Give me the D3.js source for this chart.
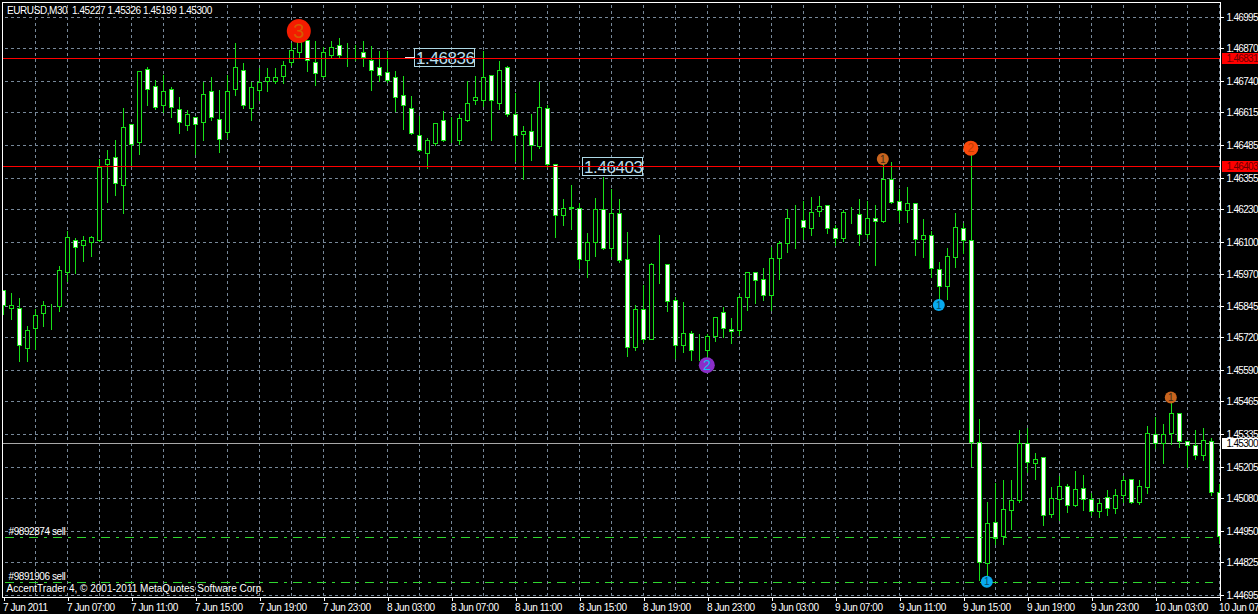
<!DOCTYPE html>
<html lang="en">
<head>
  <meta charset="UTF-8">
  <title>EURUSD,M30</title>
  <style>
    html, body { margin: 0; padding: 0; background: #000; overflow: hidden; }
    svg { display: block; font-family: "Liberation Sans", Arial, sans-serif; }
    .lbl { font-size: 10px; letter-spacing: -0.42px; fill: #fff; white-space: pre; }
    .lbl.price { letter-spacing: -0.7px; }
    .lbl.wide { letter-spacing: 0; }
  </style>
  <script src="https://d3js.org/d3.v7.min.js"></script>
</head>
<body>
  <div id="chart"></div>
  <script>
    // candles, 30 min bars
    const opens = [
      1.45910,1.45835,1.45837,1.45676,1.45755,1.45815,1.45837,1.45846,1.45978,1.46108,
      1.46086,1.46098,1.46106,1.46408,1.46438,1.46328,1.46569,1.46496,1.46788,1.46721,
      1.46646,1.46709,1.46629,1.46567,1.46597,1.46577,1.46701,1.46589,1.46536,1.46709,
      1.46784,1.46631,1.46703,1.46742,1.46742,1.46762,1.46814,1.46854,1.46902,1.46816,
      1.46762,1.46842,1.46884,1.46836,1.46844,1.46856,1.46824,1.46796,1.46776,1.46756,
      1.46685,1.46633,1.46524,1.46452,1.46492,1.46585,1.46514,1.46506,1.46585,1.46663,
      1.46663,1.46764,1.46653,1.46796,1.46609,1.46530,1.46540,1.46480,1.46633,1.46408,
      1.46205,1.46239,1.46235,1.46026,1.46100,1.46231,1.46074,1.46215,1.46032,1.45680,
      1.45833,1.45715,1.46016,1.46012,1.45869,1.45688,1.45737,1.45670,1.45668,1.45723,
      1.45821,1.45753,1.45747,1.45879,1.45980,1.45952,1.45887,1.46034,1.46096,1.46191,
      1.46187,1.46153,1.46221,1.46247,1.46155,1.46114,1.46212,1.46211,1.46133,1.46195,
      1.46181,1.46352,1.46263,1.46227,1.46255,1.46110,1.46128,1.45992,1.45926,1.46038,
      1.46155,1.46108,1.45303,1.44822,1.44985,1.44927,1.45033,1.45073,1.45299,1.45218,
      1.45244,1.45015,1.45076,1.45128,1.45053,1.45120,1.45076,1.45029,1.45084,1.45041,
      1.45092,1.45156,1.45065,1.45124,1.45335,1.45299,1.45339,1.45419,1.45307,1.45291,
      1.45252,1.45307,1.45104
    ];
    const highs = [
      1.45910,1.45901,1.45882,1.45770,1.45837,1.45870,1.45858,1.46009,1.46147,1.46121,
      1.46128,1.46128,1.46434,1.46471,1.46511,1.46638,1.46572,1.46783,1.46801,1.46750,
      1.46768,1.46721,1.46681,1.46630,1.46600,1.46741,1.46761,1.46710,1.46769,1.46897,
      1.46817,1.46741,1.46796,1.46797,1.46797,1.46825,1.46897,1.46913,1.46905,1.46905,
      1.46878,1.46905,1.46916,1.46896,1.46889,1.46905,1.46884,1.46864,1.46864,1.46784,
      1.46764,1.46685,1.46605,1.46518,1.46576,1.46625,1.46601,1.46613,1.46745,1.46764,
      1.46864,1.46767,1.46824,1.46804,1.46697,1.46565,1.46613,1.46739,1.46649,1.46411,
      1.46275,1.46331,1.46259,1.46140,1.46279,1.46363,1.46315,1.46275,1.46144,1.45853,
      1.45933,1.46020,1.46131,1.46016,1.45883,1.45866,1.45750,1.45737,1.45737,1.45806,
      1.45846,1.45801,1.45894,1.45984,1.45984,1.46000,1.46085,1.46108,1.46235,1.46252,
      1.46265,1.46284,1.46288,1.46252,1.46171,1.46231,1.46244,1.46275,1.46268,1.46251,
      1.46427,1.46422,1.46315,1.46324,1.46258,1.46196,1.46145,1.46025,1.46081,1.46220,
      1.46177,1.46467,1.45400,1.45070,1.45145,1.45157,1.45157,1.45356,1.45364,1.45262,
      1.45248,1.45129,1.45172,1.45141,1.45193,1.45177,1.45104,1.45080,1.45116,1.45120,
      1.45173,1.45160,1.45156,1.45371,1.45407,1.45380,1.45480,1.45423,1.45310,1.45355,
      1.45363,1.45323,1.45140
    ];
    const lows = [
      1.45814,1.45794,1.45627,1.45627,1.45675,1.45766,1.45754,1.45826,1.45945,1.45977,
      1.46025,1.46045,1.46104,1.46257,1.46288,1.46215,1.46404,1.46448,1.46646,1.46627,
      1.46615,1.46595,1.46535,1.46547,1.46450,1.46507,1.46586,1.46456,1.46515,1.46686,
      1.46631,1.46583,1.46663,1.46702,1.46734,1.46734,1.46802,1.46834,1.46782,1.46723,
      1.46758,1.46836,1.46833,1.46801,1.46822,1.46801,1.46703,1.46742,1.46735,1.46622,
      1.46550,1.46530,1.46462,1.46392,1.46486,1.46502,1.46496,1.46491,1.46582,1.46650,
      1.46639,1.46504,1.46630,1.46599,1.46423,1.46352,1.46427,1.46472,1.46398,1.46118,
      1.46168,1.46152,1.45996,1.45958,1.46045,1.46071,1.46042,1.46021,1.45647,1.45671,
      1.45702,1.45712,1.45937,1.45823,1.45636,1.45660,1.45631,1.45631,1.45631,1.45705,
      1.45721,1.45697,1.45729,1.45830,1.45857,1.45870,1.45827,1.45953,1.46061,1.46077,
      1.46113,1.46128,1.46204,1.46136,1.46089,1.46102,1.46176,1.46086,1.46114,1.46009,
      1.46177,1.46254,1.46180,1.46180,1.46049,1.46041,1.45961,1.45870,1.45874,1.46001,
      1.46056,1.45209,1.44755,1.44767,1.44898,1.44895,1.44958,1.45063,1.45182,1.45157,
      1.44974,1.45003,1.44994,1.45026,1.45050,1.45033,1.45014,1.45006,1.45011,1.45022,
      1.45063,1.45061,1.45058,1.45098,1.45279,1.45221,1.45293,1.45285,1.45204,1.45237,
      1.45232,1.45090,1.44902
    ];
    const closes = [
      1.45849,1.45849,1.45688,1.45749,1.45809,1.45849,1.45837,1.45988,1.46120,1.46078,
      1.46108,1.46120,1.46398,1.46430,1.46336,1.46557,1.46488,1.46780,1.46709,1.46635,
      1.46701,1.46635,1.46577,1.46609,1.46569,1.46689,1.46597,1.46510,1.46701,1.46796,
      1.46645,1.46717,1.46738,1.46756,1.46756,1.46804,1.46864,1.46897,1.46822,1.46774,
      1.46856,1.46876,1.46844,1.46836,1.46844,1.46834,1.46784,1.46764,1.46745,1.46677,
      1.46645,1.46534,1.46466,1.46506,1.46573,1.46506,1.46514,1.46593,1.46653,1.46677,
      1.46756,1.46665,1.46784,1.46607,1.46526,1.46540,1.46486,1.46637,1.46408,1.46207,
      1.46235,1.46233,1.46030,1.46100,1.46231,1.46074,1.46215,1.46026,1.45680,1.45833,
      1.45715,1.46012,1.46016,1.45863,1.45688,1.45737,1.45668,1.45670,1.45725,1.45801,
      1.45755,1.45743,1.45881,1.45980,1.45946,1.45887,1.46036,1.46097,1.46195,1.46191,
      1.46157,1.46219,1.46243,1.46155,1.46117,1.46219,1.46212,1.46133,1.46195,1.46181,
      1.46350,1.46257,1.46227,1.46255,1.46110,1.46128,1.45996,1.45924,1.46044,1.46159,
      1.46108,1.45303,1.44824,1.44981,1.44919,1.45037,1.45074,1.45299,1.45222,1.45236,
      1.45013,1.45080,1.45128,1.45053,1.45116,1.45076,1.45029,1.45061,1.45041,1.45092,
      1.45152,1.45065,1.45128,1.45339,1.45299,1.45335,1.45419,1.45307,1.45291,1.45252,
      1.45311,1.45104,1.44929
    ];

    const priceTicks = [1.46995,1.46870,1.46740,1.46615,1.46485,1.46355,1.46230,1.46100,1.45970,1.45845,
      1.45720,1.45590,1.45465,1.45335,1.45205,1.45080,1.44950,1.44825,1.44695];
    // the last label is cut by the window edge in the picture
    const timeLabels = ["7 Jun 2011","7 Jun 07:00","7 Jun 11:00","7 Jun 15:00","7 Jun 19:00","7 Jun 23:00",
      "8 Jun 03:00","8 Jun 07:00","8 Jun 11:00","8 Jun 15:00","8 Jun 19:00","8 Jun 23:00",
      "9 Jun 03:00","9 Jun 07:00","9 Jun 11:00","9 Jun 15:00","9 Jun 19:00","9 Jun 23:00",
      "10 Jun 03:00","10 Jun 07"];

    const levelPrices = [1.46831, 1.46403];
    const levelBars = [51, 72];
    const levelTextPrices = [1.46836, 1.46403];
    const lastPrice = 1.45300;
    const orderPrices = [1.44925, 1.44746];
    const orderLabels = ["#9892874 sell", "#9891906 sell"];

    const markerBars = [37, 110, 121, 117, 123, 146, 88];
    const markerPrices = [1.46940, 1.46431, 1.46474, 1.45850, 1.44748, 1.45481, 1.45610];
    const markerDigits = ["3", "1", "2", "1", "1", "1", "2"];
    const markerKinds = ["big", "brown", "orange", "blue", "blue", "brown", "purple"];

    const markerStyle = {
      big:    {r: 12,  fill: "#f41c00", text: "#d85a00", size: 20},
      orange: {r: 7.5, fill: "#fb4a0c", text: "#c23c00", size: 12},
      brown:  {r: 6,   fill: "#c8641e", text: "#3a2a1a", size: 10},
      blue:   {r: 6,   fill: "#08aaf0", text: "#0b4a66", size: 10},
      purple: {r: 8,   fill: "#8a2ec8", text: "#12bff0", size: 14}
    };

    const width = 1258, height = 614;
    const frameL = 2.5, frameR = 1220.5, frameT = 2.5, frameB = 597.5;
    const green = "#18e018";

    const bars = d3.range(opens.length);
    const x = d3.scaleLinear().domain([0, bars.length - 1]).range([3.5, 1219.5]);
    const y = d3.scaleLinear().domain([1.46995, 1.44695]).range([17.3, 595]);
    const snap = v => Math.round(v - 0.3) + 0.5;
    const fmt = d3.format(".5f");

    const svg = d3.select("#chart").append("svg")
      .attr("width", width)
      .attr("height", height)
      .attr("shape-rendering", "crispEdges");

    svg.append("clipPath").attr("id", "plot").append("rect")
      .attr("x", frameL + 0.5).attr("y", frameT + 0.5)
      .attr("width", frameR - frameL - 1).attr("height", frameB - frameT - 1);

    // grid
    const grid = svg.append("g").attr("stroke", "#778899").attr("stroke-dasharray", "3 3");
    grid.selectAll(".h").data(priceTicks).join("line")
      .attr("x1", frameL + 2).attr("x2", frameR - 1)
      .attr("y1", d => snap(y(d))).attr("y2", d => snap(y(d)));
    grid.selectAll(".v").data(d3.range(4, bars.length, 4)).join("line")
      .attr("x1", d => x(d)).attr("x2", d => x(d))
      .attr("y1", frameT + 2).attr("y2", frameB - 1);

    const plot = svg.append("g").attr("clip-path", "url(#plot)");

    // last price line under the candles
    plot.append("line")
      .attr("x1", frameL).attr("x2", frameR)
      .attr("y1", snap(y(lastPrice))).attr("y2", snap(y(lastPrice)))
      .attr("stroke", "#a8a8a8");

    // candles
    plot.selectAll(".wick").data(bars).join("line")
      .attr("x1", i => x(i)).attr("x2", i => x(i))
      .attr("y1", i => snap(y(highs[i]))).attr("y2", i => snap(y(lows[i])))
      .attr("stroke", green);

    plot.selectAll(".body").data(bars).join("rect")
      .attr("x", i => x(i) - 2)
      .attr("width", 4)
      .attr("y", i => snap(y(Math.max(opens[i], closes[i]))))
      .attr("height", i => snap(y(Math.min(opens[i], closes[i]))) - snap(y(Math.max(opens[i], closes[i]))))
      .attr("fill", i => closes[i] < opens[i] ? "#fff" : "#000")
      .attr("stroke", green);

    // order lines
    plot.selectAll(".order").data(orderPrices).join("line")
      .attr("x1", frameL + 2).attr("x2", 1213)
      .attr("y1", d => snap(y(d))).attr("y2", d => snap(y(d)))
      .attr("stroke", "#2fd62f")
      .attr("stroke-dasharray", "9 6 3 6");

    // level text boxes
    levelTextPrices.forEach((p, k) => {
      const bx = x(levelBars[k]) + 3, by = snap(y(p));
      svg.append("rect")
        .attr("x", bx).attr("y", by - 9).attr("width", 60).attr("height", 18)
        .attr("fill", "none").attr("stroke", "#add8e6");
      svg.append("text")
        .attr("x", bx + 1.5).attr("y", by + 6)
        .attr("font-size", 17).attr("letter-spacing", -0.4)
        .attr("fill", "#bcdfec").attr("shape-rendering", "auto")
        .text(fmt(p));
    });
    svg.append("line")
      .attr("x1", x(levelBars[0]) - 7).attr("x2", x(levelBars[0]) + 3)
      .attr("y1", snap(y(levelTextPrices[0]))).attr("y2", snap(y(levelTextPrices[0])))
      .attr("stroke", "#e8e8e8");

    // red levels, over the text boxes
    svg.append("g").attr("clip-path", "url(#plot)")
      .selectAll("line").data(levelPrices).join("line")
      .attr("x1", frameL).attr("x2", frameR)
      .attr("y1", d => snap(y(d))).attr("y2", d => snap(y(d)))
      .attr("stroke", "#ff0000");

    // numbered markers
    const marks = svg.append("g").selectAll("g").data(markerBars).join("g")
      .attr("transform", (d, k) => `translate(${x(d) - 0.7},${y(markerPrices[k])})`)
      .attr("shape-rendering", "auto");
    marks.append("circle")
      .attr("r", (d, k) => markerStyle[markerKinds[k]].r)
      .attr("fill", (d, k) => markerStyle[markerKinds[k]].fill);
    marks.append("text")
      .attr("text-anchor", "middle")
      .attr("dy", "0.36em")
      .attr("font-size", (d, k) => markerStyle[markerKinds[k]].size)
      .attr("fill", (d, k) => markerStyle[markerKinds[k]].text)
      .text((d, k) => markerDigits[k]);

    // frame
    svg.append("rect")
      .attr("x", frameL).attr("y", frameT)
      .attr("width", frameR - frameL).attr("height", frameB - frameT)
      .attr("fill", "none").attr("stroke", "#fff");

    // axes
    const yAxis = svg.append("g")
      .attr("transform", `translate(${frameR},0)`)
      .call(d3.axisRight(y).tickValues(priceTicks).tickSize(3).tickPadding(3).tickFormat(fmt));
    yAxis.select(".domain").remove();
    yAxis.selectAll(".tick").attr("transform", d => `translate(0,${snap(y(d))})`);
    yAxis.selectAll("line").attr("stroke", "#fff");
    yAxis.selectAll("text").attr("class", "lbl price").attr("fill", null).attr("shape-rendering", "auto");

    const timeBars = timeLabels.map((_, k) => k * 8);
    const xAxis = svg.append("g")
      .attr("transform", `translate(0,${frameB})`)
      .call(d3.axisBottom(x).tickValues(timeBars).tickSize(3).tickFormat((d, k) => timeLabels[k]));
    xAxis.select(".domain").remove();
    xAxis.selectAll("line").attr("stroke", "#fff");
    xAxis.selectAll("text")
      .attr("class", "lbl").attr("fill", null)
      .attr("text-anchor", "start")
      .attr("x", -1).attr("y", 13).attr("dy", null)
      .attr("shape-rendering", "auto");
    yAxis.attr("font-family", null).attr("font-size", null);
    xAxis.attr("font-family", null).attr("font-size", null);

    // price tags on the right
    const tags = levelPrices.map(p => ({p, bg: "#ff0000", fg: "#6a0000"}))
      .concat([{p: lastPrice, bg: "#ffffff", fg: "#000000"}]);
    tags.forEach(t => {
      const c = snap(y(t.p));
      svg.append("rect")
        .attr("x", 1222).attr("y", c - 6).attr("width", 36).attr("height", 11)
        .attr("fill", t.bg);
      svg.append("text").attr("class", "lbl price")
        .attr("x", 1226.5).attr("y", c + 3)
        .style("fill", t.fg)
        .text(fmt(t.p));
    });

    // text on the chart
    svg.append("text").attr("class", "lbl")
      .attr("x", 7).attr("y", 14)
      .text("EURUSD,M30  1.45227 1.45326 1.45199 1.45300");
    orderLabels.forEach((t, k) => {
      svg.append("text").attr("class", "lbl")
        .attr("x", 8.5).attr("y", snap(y(orderPrices[k])) - 3)
        .text(t);
    });
    svg.append("text").attr("class", "lbl wide")
      .attr("x", 6.5).attr("y", 592)
      .text("AccentTrader 4, © 2001-2011 MetaQuotes Software Corp.");
  </script>
</body>
</html>
